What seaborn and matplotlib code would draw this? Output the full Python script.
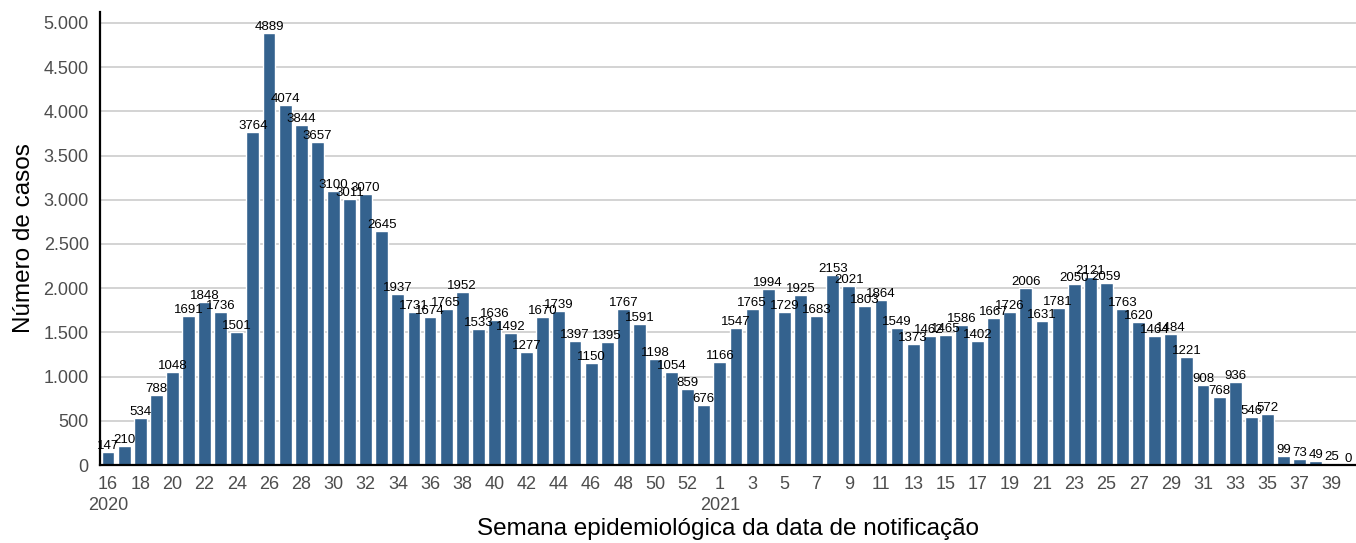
import numpy as np
import pandas as pd
import matplotlib
matplotlib.use("Agg")
import matplotlib.pyplot as plt
import seaborn as sns

weeks_2020 = list(range(16, 54))
cases_2020 = [147, 210, 534, 788, 1048, 1691, 1848, 1736, 1501, 3764,
              4889, 4074, 3844, 3657, 3100, 3011, 3070, 2645, 1937, 1731,
              1674, 1765, 1952, 1533, 1636, 1492, 1277, 1670, 1739, 1397,
              1150, 1395, 1767, 1591, 1198, 1054, 859, 676]
weeks_2021 = list(range(1, 41))
cases_2021 = [1166, 1547, 1765, 1994, 1729, 1925, 1683, 2153, 2021, 1803,
              1864, 1549, 1373, 1462, 1465, 1586, 1402, 1667, 1726, 2006,
              1631, 1781, 2050, 2121, 2059, 1763, 1620, 1464, 1484, 1221,
              908, 768, 936, 546, 572, 99, 73, 49, 25, 0]

BAR_COLOR = "#34628e"

df = pd.DataFrame({
    "ano": [2020] * len(weeks_2020) + [2021] * len(weeks_2021),
    "semana": weeks_2020 + weeks_2021,
    "casos": cases_2020 + cases_2021,
})
df["chave"] = df["ano"].astype(str) + "-" + df["semana"].astype(str)

sns.set_theme(style="white")
plt.rcParams["font.family"] = ["Liberation Sans", "DejaVu Sans"]

fig = plt.figure(figsize=(13.56, 5.43), dpi=100)
ax = fig.add_axes([0.0737, 0.1436, 0.9263, 0.8344])

sns.barplot(data=df, x="chave", y="casos", color=BAR_COLOR, saturation=1,
            width=0.8, ax=ax, order=df["chave"])
ax.bar_label(ax.containers[0], labels=[str(v) for v in df["casos"]],
             fontsize=9.5, padding=0, color="black")

ax.set_xlim(-0.5, len(df) - 0.5)
ax.set_ylim(0, 5124)
yt = np.arange(0, 5001, 500)
ax.set_yticks(yt)
ax.set_yticklabels([f"{v:,}".replace(",", ".") for v in yt])
ax.yaxis.grid(True, color="#d3d3d3", linewidth=1.4)
ax.set_axisbelow(True)

labels = []
for i, (a, s) in enumerate(zip(df["ano"], df["semana"])):
    if i % 2 == 0:
        lab = str(s)
        if (a == 2020 and s == 16) or (a == 2021 and s == 1):
            lab += f"\n{a}"
        labels.append(lab)
    else:
        labels.append("")
ax.set_xticks(range(len(df)))
ax.set_xticklabels(labels, ha="center", va="top", linespacing=1.3)

for side in ["top", "right"]:
    ax.spines[side].set_visible(False)
for side in ["left", "bottom"]:
    ax.spines[side].set_color("black")
    ax.spines[side].set_linewidth(1.6)

ax.tick_params(axis="both", which="both", direction="out", length=5, width=1.4,
               color="black", labelcolor="#4d4d4d", labelsize=13)
ax.tick_params(axis="x", pad=3)
ax.tick_params(axis="y", pad=3)

ax.set_xlabel("Semana epidemiológica da data de notificação", fontsize=17.5,
              color="black", labelpad=3)
ax.set_ylabel("Número de casos", fontsize=17.5, color="black", labelpad=6)

fig.savefig("out.png", dpi=100)
